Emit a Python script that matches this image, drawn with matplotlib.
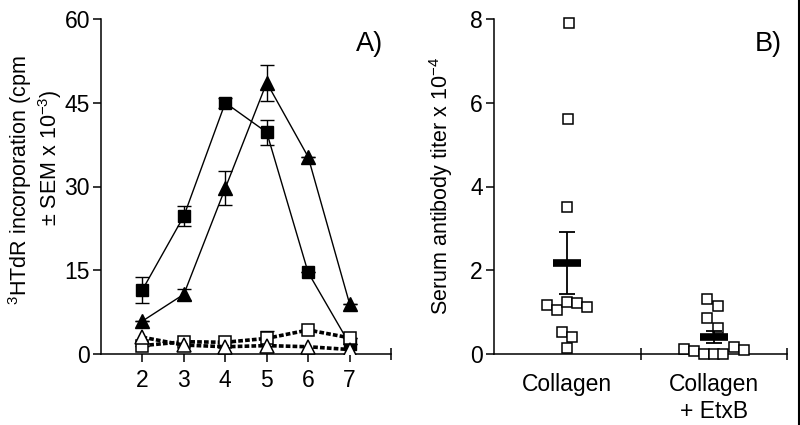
import matplotlib
matplotlib.use("Agg")
import matplotlib.pyplot as plt
from matplotlib.lines import Line2D

plt.rcParams['font.family'] = ['Liberation Sans', 'DejaVu Sans']
plt.rcParams['mathtext.fontset'] = 'custom'
plt.rcParams['mathtext.rm'] = 'Liberation Sans'
plt.rcParams['mathtext.default'] = 'regular'

# ---- Panel A data ----
days = [2, 3, 4, 5, 6, 7]
filled_sq = [11.5, 24.7, 45.0, 39.7, 14.6, 1.8]
filled_sq_err = [2.3, 1.8, 0.9, 2.2, 0.0, 0.0]
filled_tri = [5.9, 10.7, 29.7, 48.6, 35.3, 9.0]
filled_tri_err = [0.0, 1.0, 3.1, 3.2, 0.0, 0.0]
open_sq = [1.5, 2.2, 2.1, 2.8, 4.3, 2.9]
open_sq_err = [0.0, 0.0, 0.0, 1.4, 0.0, 0.0]
open_tri = [3.0, 1.6, 1.3, 1.5, 1.3, 0.8]
a_yticks = [0, 15, 30, 45, 60]

# ---- Panel B data ----
groups = ["Collagen", "Collagen\n+ EtxB"]
collagen_vals = [7.91, 5.61, 3.52, 1.16, 1.06, 1.23, 1.22, 1.12, 0.52, 0.41, 0.14]
collagen_offsets = [0.01, 0.005, 0.0, -0.141, -0.07, 0.0, 0.068, 0.137, -0.039, 0.034, 0.0]
etxb_vals = [1.32, 1.15, 0.86, 0.62, 0.12, 0.08, 0.01, 0.0, 0.01, 0.17, 0.10]
etxb_offsets = [-0.045, 0.03, -0.045, 0.03, -0.205, -0.137, -0.068, 0.0, 0.064, 0.137, 0.205]
group_means = [2.18, 0.41]
group_sem = [0.74, 0.14]
b_yticks = [0, 2, 4, 6, 8]

fig = plt.figure(figsize=(8.0, 4.25), dpi=100)
W, H = 800, 425

def fa(l, r, t, b):
    return [l / W, 1 - b / H, (r - l) / W, (b - t) / H]

def fp(x, y):
    return x / W, 1 - y / H

axA = fig.add_axes(fa(101, 391, 19, 354))
axB = fig.add_axes(fa(494, 787, 19, 354))

for ax in (axA, axB):
    for s in ('top', 'right'):
        ax.spines[s].set_visible(False)
    for s in ('left', 'bottom'):
        ax.spines[s].set_linewidth(1.1)
    ax.tick_params(axis='both', which='both', width=1.1, labelsize=16.5, color='black')
    ax.tick_params(axis='y', direction='out', length=6, pad=2)

# Panel A
dash = (0, (1.3, 0.6))
ekw = dict(fmt='none', ecolor='black', elinewidth=1, capsize=5, capthick=1, zorder=2)
axA.errorbar(days, filled_sq, yerr=filled_sq_err, **ekw)
axA.plot(days, filled_sq, color='black', lw=1, marker='s', ms=8, mfc='black', mec='black', zorder=3)
axA.errorbar(days, filled_tri, yerr=filled_tri_err, **ekw)
axA.plot(days, filled_tri, color='black', lw=1, marker='^', ms=9.5, mfc='black', mec='black', zorder=3)
axA.errorbar(days, open_sq, yerr=open_sq_err, **ekw)
axA.plot(days, open_sq, color='black', lw=2.6, linestyle=dash, marker='s', ms=8, mfc='white', mec='black', mew=1.1, zorder=5)
axA.plot(days, open_tri, color='black', lw=2.6, linestyle=dash, marker='^', ms=9.5, mfc='white', mec='black', mew=1.1, zorder=6)

axA.set_xlim(1, 8)
axA.set_ylim(0, 60)
axA.set_yticks(a_yticks)
axA.set_xticks(days)
axA.set_xticks([8], minor=True)
axA.tick_params(axis='x', which='major', direction='out', length=6, pad=5)
axA.tick_params(axis='x', which='minor', direction='inout', length=9)
fig.text(*fp(370, 44), "A)", fontsize=19.5, ha='center', va='center')

fig.text(*fp(20, 180), "$^{3}$HTdR incorporation (cpm", rotation=90,
         fontsize=15.5, ha='center', va='center')
fig.text(*fp(50, 158), "\u00b1 SEM x 10$^{-3}$)", rotation=90,
         fontsize=15.5, ha='center', va='center')

# Panel B
cx = [0.5, 1.5]
axB.plot([cx[0] + o for o in collagen_offsets], collagen_vals, linestyle='none', marker='s',
         ms=7.5, mfc='white', mec='black', mew=1.1, zorder=3, clip_on=False)
axB.plot([cx[1] + o for o in etxb_offsets], etxb_vals, linestyle='none', marker='s',
         ms=7.5, mfc='white', mec='black', mew=1.1, zorder=3, clip_on=False)
axB.errorbar(cx, group_means, yerr=group_sem, fmt='none', ecolor='black', elinewidth=1.3,
             capsize=5.5, capthick=1.3, zorder=4)
axB.plot(cx, group_means, linestyle='none', marker='_', ms=20, mew=5.5, color='black', zorder=5)

axB.set_xlim(0, 2)
axB.set_ylim(0, 8)
axB.set_yticks(b_yticks)
axB.set_xticks(cx)
axB.set_xticklabels(groups)
axB.set_xticks([1, 2], minor=True)
axB.tick_params(axis='x', which='major', length=0, pad=14)
axB.tick_params(axis='x', which='minor', direction='inout', length=9)
fig.text(*fp(441, 186), "Serum antibody titer x 10$^{-4}$", rotation=90,
         fontsize=15.5, ha='center', va='center')
fig.text(*fp(768, 44), "B)", fontsize=19.5, ha='center', va='center')

# right border line
fig.add_artist(Line2D([798.5 / W, 798.5 / W], [0, 1], color='black', lw=1.5, transform=fig.transFigure))

fig.savefig("out.png", dpi=100)
